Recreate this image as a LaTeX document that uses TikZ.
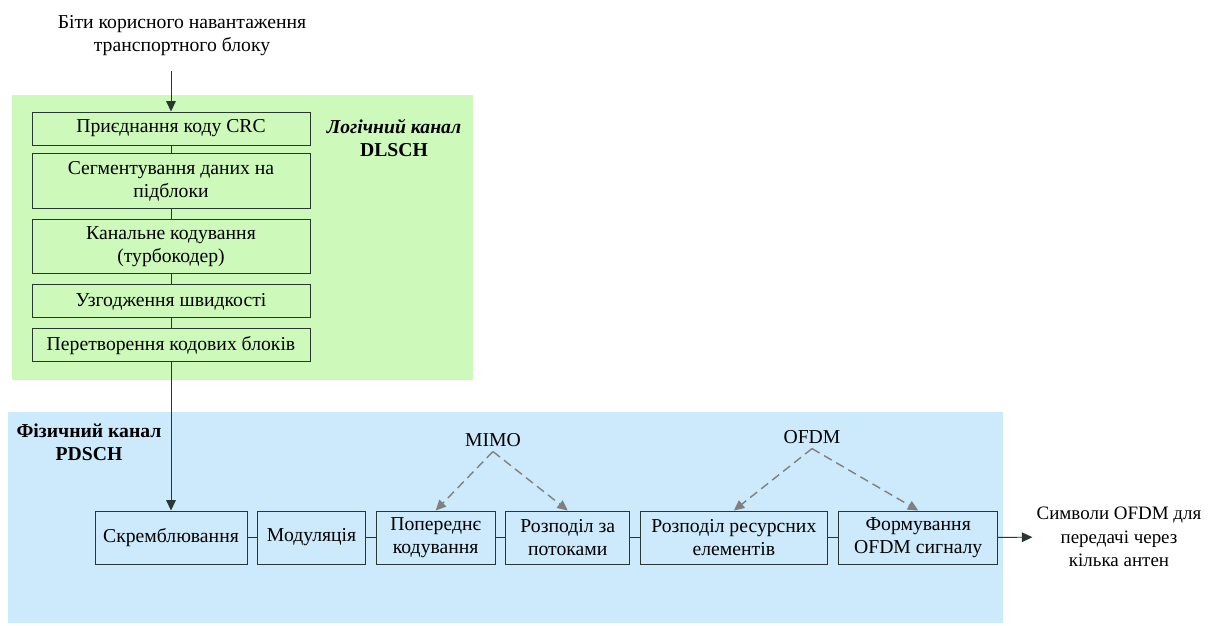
\documentclass[tikz,border=0pt]{standalone}
\usepackage{fontspec}
\setmainfont{Liberation Serif}
\usepackage{tikz}
\usetikzlibrary{positioning, arrows.meta}
\usepackage{xcolor}
\definecolor{logicgreen}{RGB}{205,250,187}
\definecolor{physblue}{RGB}{204,234,251}
\definecolor{boxline}{RGB}{40,55,50}

\begin{document}
\begin{tikzpicture}[x=0.25mm, y=-0.25mm, node distance=2.5mm,
    font=\fontsize{14}{16.5}\selectfont,
    every node/.style={align=center},
    block/.style={draw=boxline, line width=0.7pt, minimum width=69.5mm, minimum height=8.25mm, inner sep=1pt},
    stage/.style={draw=boxline, line width=0.7pt, minimum height=13.25mm, inner sep=1pt},
    link/.style={draw=boxline, line width=0.7pt},
    flow/.style={link, -{Triangle[length=2.6mm, width=2.4mm]}},
    hint/.style={draw=gray, line width=1pt, dash pattern=on 2.2mm off 1.3mm, -{Triangle[length=2.6mm, width=2.4mm]}},
    title/.style={font=\fontsize{14}{16.5}\selectfont\bfseries}]
    \useasboundingbox (0,0) rectangle (1208,626);
    % areas
    \fill[logicgreen] (12,95) rectangle (473,380);
    \fill[physblue] (8,412) rectangle (1003,623);

    \node (bits) at (182,36) {Біти корисного навантаження\\транспортного блоку};

    % DLSCH column
    \node[block] (crc) at (171,128.5) {Приєднання коду CRC};
    \node[block, minimum height=13.75mm, below=2mm of crc] (seg) {Сегментування даних на\\підблоки};
    \node[block, minimum height=13.5mm, below=of seg] (turbo) {Канальне кодування\\(турбокодер)};
    \node[block, below=of turbo] (rate) {Узгодження швидкості};
    \node[block, below=of rate] (conv) {Перетворення кодових блоків};
    \node[title] (dlsch) at (394,138) {\textit{Логічний канал}\\DLSCH};

    % PDSCH row
    \node[stage, minimum width=38mm] (scr) at (171,537.5) {Скремблювання};
    \node[stage, minimum width=27mm, right=2.4mm of scr] (mod) {Модуляція};
    \node[stage, minimum width=29.75mm, right=2.4mm of mod] (prec) {Попереднє\\кодування};
    \node[stage, minimum width=31mm, right=2.4mm of prec] (layer) {Розподіл за\\потоками};
    \node[stage, minimum width=46.75mm, right=2.4mm of layer] (remap) {Розподіл ресурсних\\елементів};
    \node[stage, minimum width=39.75mm, right=2.6mm of remap] (ofdmgen) {Формування\\OFDM сигналу};
    \node[title] (pdsch) at (89,442) {Фізичний канал\\PDSCH};
    \node (mimo) at (493,440) {MIMO};
    \node (ofdm) at (812,437) {OFDM};
    \node[font=\fontsize{13.5}{16.5}\selectfont, inner sep=1mm] (out) at (1119,537) {Символи OFDM для\\передачі через\\кілька антен};

    \draw[flow, shorten <=2.5mm] (bits.south -| crc.north) -- (crc.north);
    \draw[link] (crc) -- (seg);
    \draw[link] (seg) -- (turbo);
    \draw[link] (turbo) -- (rate);
    \draw[link] (rate) -- (conv);
    \draw[flow] (conv) -- (scr);
    \draw[link] (scr) -- (mod);
    \draw[link] (mod) -- (prec);
    \draw[link] (prec) -- (layer);
    \draw[link] (layer) -- (remap);
    \draw[link] (remap) -- (ofdmgen);
    \draw[flow] (ofdmgen) -- (out);
    \draw[hint] (mimo.south) -- (prec.north);
    \draw[hint] (mimo.south) -- (layer.north);
    \draw[hint] (ofdm.south) -- (remap.north);
    \draw[hint] (ofdm.south) -- (ofdmgen.north);
\end{tikzpicture}
\end{document}
